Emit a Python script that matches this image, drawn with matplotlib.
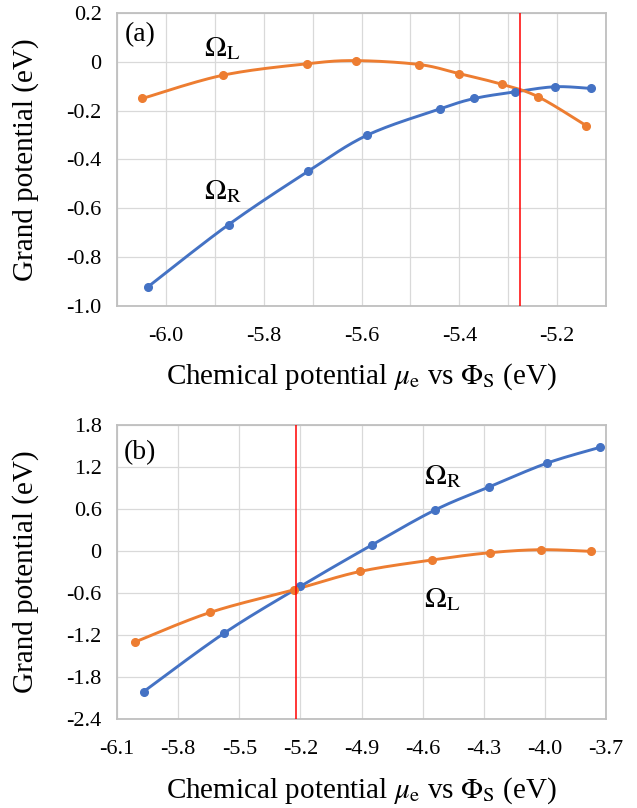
import numpy as np
import matplotlib
matplotlib.use("Agg")
import matplotlib.pyplot as plt
from matplotlib.ticker import FixedLocator, FuncFormatter

plt.rcParams['font.family'] = ['Liberation Serif', 'DejaVu Serif']
plt.rcParams['mathtext.fontset'] = 'stix'
plt.rcParams['axes.unicode_minus'] = False

# panel (a): chemical potential vs grand potential
a_mu_R = [-6.037, -5.872, -5.709, -5.588, -5.440, -5.369, -5.286, -5.204, -5.131]
a_om_R = [-0.922, -0.667, -0.448, -0.300, -0.193, -0.150, -0.123, -0.102, -0.109]
a_mu_L = [-6.048, -5.884, -5.712, -5.612, -5.482, -5.401, -5.313, -5.239, -5.140]
a_om_L = [-0.150, -0.055, -0.008, 0.005, -0.011, -0.048, -0.092, -0.143, -0.262]
a_cross = -5.275

# panel (b)
b_mu_R = [-5.970, -5.575, -5.200, -4.850, -4.540, -4.274, -3.990, -3.731]
b_om_R = [-2.01, -1.175, -0.505, 0.085, 0.585, 0.915, 1.255, 1.48]
b_mu_L = [-6.012, -5.643, -5.230, -4.907, -4.552, -4.270, -4.020, -3.773]
b_om_L = [-1.30, -0.877, -0.552, -0.292, -0.127, -0.024, 0.019, -0.005]
b_cross = -5.22

a_xticks = [-6.1, -6.0, -5.9, -5.8, -5.7, -5.6, -5.5, -5.4, -5.3, -5.2, -5.1]
a_xlabels = ['', '-6.0', '', '-5.8', '', '-5.6', '', '-5.4', '', '-5.2', '']
a_yticks = [-1.0, -0.8, -0.6, -0.4, -0.2, 0.0, 0.2]
b_xticks = [-6.1, -5.8, -5.5, -5.2, -4.9, -4.6, -4.3, -4.0, -3.7]
b_yticks = [-2.4, -1.8, -1.2, -0.6, 0.0, 0.6, 1.2, 1.8]

BLUE = '#4472C4'
ORANGE = '#ED7D31'
XLABEL = 'Chemical potential $\\mu_{\\mathrm{e}}$ vs $\\Phi_{\\mathrm{S}}$ (eV)'


def smooth(xs, ys, n=25):
    # Catmull-Rom curve through the points, like Excel's smoothed line
    p = np.column_stack([xs, ys])
    p = np.vstack([p[0], p, p[-1]])
    t = np.linspace(0, 1, n)[:, None]
    segs = []
    for i in range(1, len(p) - 2):
        p0, p1, p2, p3 = p[i - 1], p[i], p[i + 1], p[i + 2]
        segs.append(0.5 * (2 * p1 + (-p0 + p2) * t
                           + (2 * p0 - 5 * p1 + 4 * p2 - p3) * t ** 2
                           + (-p0 + 3 * p1 - 3 * p2 + p3) * t ** 3))
    s = np.vstack(segs)
    return s[:, 0], s[:, 1]


def yfmt(v, pos):
    return '0' if abs(v) < 1e-9 else f'{v:.1f}'


def style(ax, xticks, yticks, xlabels=None):
    ax.set_xlim(xticks[0], xticks[-1])
    ax.set_ylim(yticks[0], yticks[-1])
    ax.xaxis.set_major_locator(FixedLocator(xticks))
    ax.yaxis.set_major_locator(FixedLocator(yticks))
    if xlabels is None:
        ax.xaxis.set_major_formatter(FuncFormatter(lambda v, p: f'{v:.1f}'))
    else:
        ax.set_xticklabels(xlabels)
    ax.yaxis.set_major_formatter(FuncFormatter(yfmt))
    ax.grid(True, color='#d9d9d9', linewidth=0.9)
    ax.set_axisbelow(True)
    for sp in ax.spines.values():
        sp.set_color('#bfbfbf')
        sp.set_linewidth(1.3)
    ax.tick_params(axis='both', length=0, labelsize=16)
    ax.tick_params(axis='x', pad=15)
    ax.tick_params(axis='y', pad=11)
    ax.set_ylabel('Grand potential (eV)', fontsize=21)
    ax.yaxis.set_label_coords(-0.16, 0.5)
    ax.set_xlabel(XLABEL, fontsize=21)


def draw(ax, mx, my, color):
    sx, sy = smooth(mx, my)
    ax.plot(sx, sy, color=color, linewidth=2.1, solid_capstyle='round', zorder=3)
    ax.plot(mx, my, 'o', color=color, markersize=5.5, zorder=4)


fig = plt.figure(figsize=(6.37, 8.08), dpi=100)
ax1 = fig.add_axes([0.1837, 0.6213, 0.7677, 0.3626])
ax2 = fig.add_axes([0.1837, 0.1101, 0.7677, 0.3639])

# (a)
style(ax1, a_xticks, a_yticks, a_xlabels)
draw(ax1, a_mu_R, a_om_R, BLUE)
draw(ax1, a_mu_L, a_om_L, ORANGE)
ax1.axvline(a_cross, color='red', linewidth=1.1, zorder=5)
ax1.xaxis.set_label_coords(0.5, -0.19)
ax1.text(-6.084, 0.11, '(a)', fontsize=20, va='center', ha='left')
ax1.text(-5.922, 0.055, '$\\Omega_{\\mathrm{L}}$', fontsize=21, va='center', ha='left')
ax1.text(-5.922, -0.53, '$\\Omega_{\\mathrm{R}}$', fontsize=21, va='center', ha='left')

# (b)
style(ax2, b_xticks, b_yticks)
draw(ax2, b_mu_R, b_om_R, BLUE)
draw(ax2, b_mu_L, b_om_L, ORANGE)
ax2.axvline(b_cross, color='red', linewidth=1.1, zorder=5)
ax2.xaxis.set_label_coords(0.5, -0.19)
ax2.text(-6.066, 1.40, '(b)', fontsize=20, va='center', ha='left')
ax2.text(-4.591, 1.06, '$\\Omega_{\\mathrm{R}}$', fontsize=21, va='center', ha='left')
ax2.text(-4.591, -0.70, '$\\Omega_{\\mathrm{L}}$', fontsize=21, va='center', ha='left')

fig.savefig('out.png', dpi=100)
